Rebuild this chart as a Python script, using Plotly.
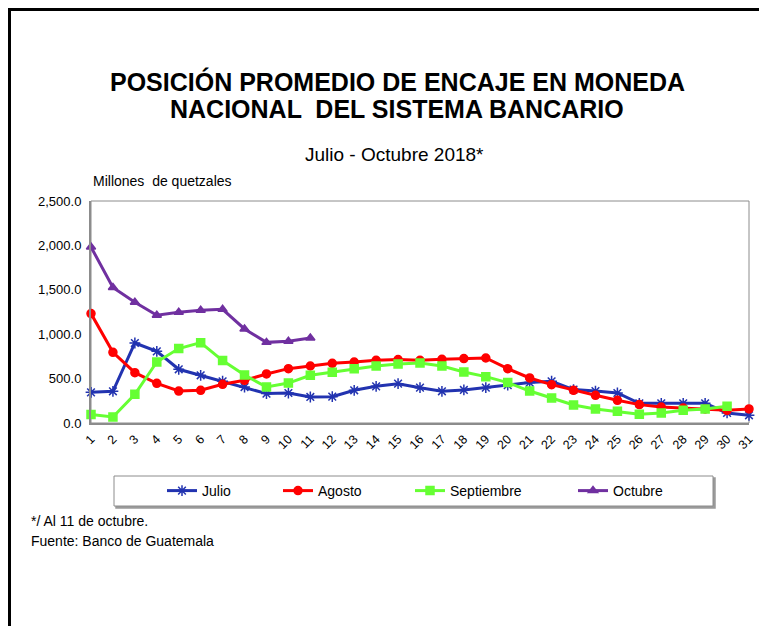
import plotly.graph_objects as go

dias = list(range(1, 32))
julio = [345, 357, 901, 807, 605, 537, 470, 405, 331, 338, 293, 297, 368, 413, 443, 398,
         357, 372, 398, 426, 455, 470, 376, 360, 338, 222, 222, 222, 222, 113, 87]
agosto = [1232, 796, 567, 447, 360, 368, 436, 481, 552, 612, 642, 672, 687, 706, 714, 706,
          717, 725, 732, 612, 507, 432, 368, 312, 256, 207, 180, 169, 158, 143, 158]
septiembre = [95, 68, 323, 687, 838, 905, 703, 541, 405, 450, 537, 571, 612, 642, 665, 676,
              642, 574, 522, 455, 360, 282, 203, 158, 132, 98, 113, 143, 158, 188]
octubre = [1982, 1525, 1359, 1213, 1247, 1269, 1280, 1059, 908, 920, 957]
y_ticks = [0, 500, 1000, 1500, 2000, 2500]

W, H = 767, 626
OFF = 8  # page body margin offset
L, R, T, B = 91, 749, 201, 423  # plot area in reference pixels

def px(x):
    return (x - L) / (R - L)

def py(y):
    return (B - y) / (B - T)

series = [
    ("Julio", julio, "#2233B0", "asterisk-open", 9, "legend"),
    ("Agosto", agosto, "#FF0000", "circle", 8, "legend2"),
    ("Septiembre", septiembre, "#66FF33", "square", 8, "legend3"),
    ("Octubre", octubre, "#7030A0", "triangle-up", 8, "legend4"),
]

fig = go.Figure()
for name, vals, color, sym, size, lg in series:
    fig.add_trace(go.Scatter(
        x=dias[:len(vals)], y=vals, name=name, mode="lines+markers",
        line=dict(color=color, width=3),
        marker=dict(symbol=sym, size=size, color=color, line=dict(color=color, width=1.5)),
        cliponaxis=False, legend=lg,
    ))

font = "Liberation Sans, Arial, sans-serif"
leg_x = [162, 278, 410, 573]
leg_common = dict(orientation="h", yanchor="middle", y=py(491), xanchor="left",
                  bgcolor="rgba(0,0,0,0)", borderwidth=0,
                  font=dict(family=font, size=14, color="black"))
legends = {}
for i, xx in enumerate(leg_x):
    key = "legend" if i == 0 else f"legend{i+1}"
    legends[key] = dict(x=px(xx), **leg_common)

fig.update_layout(
    width=W, height=H,
    margin=dict(l=L - OFF, r=W - (R - OFF), t=T - OFF, b=H - (B - OFF)),
    paper_bgcolor="white", plot_bgcolor="white",
    font=dict(family=font, color="black"),
    showlegend=True,
    **legends,
    xaxis=dict(range=[1, 31], tickvals=dias, ticktext=[str(d) for d in dias],
               tickangle=-45, showgrid=False, zeroline=False,
               showline=True, linecolor="#8C8C8C", linewidth=2, mirror=False,
               ticks="outside", ticklen=2, tickcolor="rgba(0,0,0,0)",
               tickfont=dict(family=font, size=12.5, color="black")),
    yaxis=dict(range=[0, 2500], tickvals=y_ticks, tickformat=",.1f",
               showgrid=False, zeroline=False,
               showline=True, linecolor="#8C8C8C", linewidth=2,
               ticks="outside", ticklen=5, tickcolor="rgba(0,0,0,0)",
               tickfont=dict(family=font, size=13, color="black")),
)

shapes = [
    dict(type="rect", xref="paper", yref="paper", x0=0, y0=0, x1=1, y1=1,
         line=dict(color="#8C8C8C", width=1), layer="below"),
    dict(type="rect", xref="paper", yref="paper", x0=px(116), x1=px(715), y0=py(508), y1=py(478),
         line=dict(color="#9A9A9A", width=1.5), fillcolor="#9A9A9A"),
    dict(type="rect", xref="paper", yref="paper", x0=px(114), x1=px(713), y0=py(506), y1=py(476),
         line=dict(color="#8C8C8C", width=1), fillcolor="white"),
    # outer frame: as close to the page edge as the figure allows
    dict(type="rect", xref="paper", yref="paper", x0=px(OFF + 1.5), x1=px(820),
         y0=py(720), y1=py(OFF + 1.5),
         line=dict(color="black", width=3)),
]
fig.update_layout(shapes=shapes)

annotations = [
    dict(text="<b>POSICIÓN PROMEDIO DE ENCAJE EN MONEDA</b>",
         x=px(397), y=py(82), xanchor="center", yanchor="middle",
         font=dict(family=font, size=25, color="black")),
    dict(text="<b>NACIONAL  DEL SISTEMA BANCARIO</b>",
         x=px(397), y=py(109), xanchor="center", yanchor="middle",
         font=dict(family=font, size=25, color="black")),
    dict(text="Julio - Octubre 2018*", x=px(394), y=py(155), xanchor="center", yanchor="middle",
         font=dict(family=font, size=19, color="black")),
    dict(text="Millones  de quetzales", x=px(91), y=py(181), xanchor="left", yanchor="middle",
         font=dict(family=font, size=14, color="black")),
    dict(text="*/ Al 11 de octubre.", x=px(29), y=py(521), xanchor="left", yanchor="middle",
         font=dict(family=font, size=14, color="black")),
    dict(text="Fuente: Banco de Guatemala", x=px(29), y=py(541), xanchor="left", yanchor="middle",
         font=dict(family=font, size=14, color="black")),
]
for a in annotations:
    a.update(xref="paper", yref="paper", showarrow=False)
fig.update_layout(annotations=annotations)

fig.write_html("out.html")
